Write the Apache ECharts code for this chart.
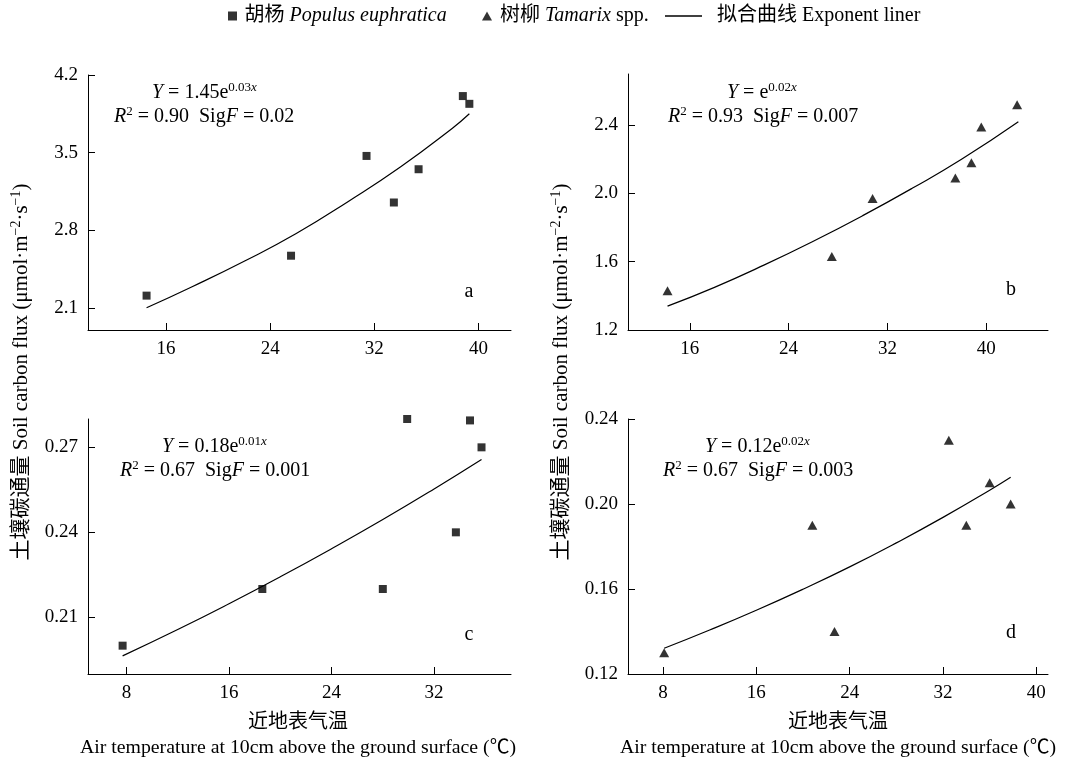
<!DOCTYPE html>
<html>
<head>
<meta charset="utf-8">
<script src="https://cdn.jsdelivr.net/npm/echarts@6/dist/echarts.min.js"></script>
<style>
  html, body { margin: 0; padding: 0; background: #fff; }
  #chart { width: 1074px; height: 762px; }
</style>
</head>
<body>
<div id="chart"></div>
<script>
const FONT = '"Liberation Serif", "Times New Roman", "Noto Sans CJK SC", serif';

// a: 胡杨 Populus euphratica (upper)
const tempA = [14.5, 25.6, 31.4, 33.5, 35.4, 38.8, 39.3];
const fluxA = [2.21, 2.57, 3.47, 3.05, 3.35, 4.01, 3.94];
const fitTempA = [14.5, 18, 22, 26, 30, 34, 38, 39.3];
const fitFluxA = [2.10, 2.29, 2.52, 2.77, 3.06, 3.37, 3.72, 3.85];

// b: 树柳 Tamarix spp. (upper)
const tempB = [14.2, 27.5, 30.8, 37.5, 38.8, 39.6, 42.5];
const fluxB = [1.43, 1.63, 1.97, 2.09, 2.18, 2.39, 2.52];
const fitTempB = [14.2, 18, 22, 26, 30, 34, 38, 42.6];
const fitFluxB = [1.34, 1.45, 1.58, 1.72, 1.87, 2.03, 2.20, 2.42];

// c: 胡杨 (lower)
const tempC = [7.7, 18.6, 28.0, 29.9, 33.7, 34.8, 35.7];
const fluxC = [0.200, 0.220, 0.220, 0.280, 0.240, 0.2795, 0.270];
const fitTempC = [7.7, 12, 16, 20, 24, 28, 32, 35.7];
const fitFluxC = [0.1964, 0.2057, 0.2148, 0.2243, 0.2342, 0.2445, 0.2553, 0.2657];

// d: 树柳 (lower)
const tempD = [8.1, 20.8, 22.7, 32.5, 34.0, 36.0, 37.8];
const fluxD = [0.130, 0.190, 0.140, 0.230, 0.190, 0.210, 0.200];
const fitTempD = [8.1, 12, 16, 20, 24, 28, 32, 36, 37.8];
const fitFluxD = [0.1321, 0.1407, 0.1500, 0.1599, 0.1704, 0.1817, 0.1937, 0.2065, 0.2126];

// tick labels
const xTicksA = [16, 24, 32, 40];
const yTicksA = [2.1, 2.8, 3.5, 4.2];
const xTicksB = [16, 24, 32, 40];
const yTicksB = [1.2, 1.6, 2.0, 2.4];
const xTicksC = [8, 16, 24, 32];
const yTicksC = [0.21, 0.24, 0.27];
const xTicksD = [8, 16, 24, 32, 40];
const yTicksD = [0.12, 0.16, 0.20, 0.24];

const zip = (xs, ys) => xs.map((x, i) => [x, ys[i]]);

const chart = echarts.init(document.getElementById('chart'));

const axisBase = (i, min, max, ticks, digits) => ({
    type: 'value',
    gridIndex: i,
    min: min,
    max: max,
    axisLine: { show: true, onZero: false, lineStyle: { color: '#000', width: 1 } },
    axisTick: { show: true, inside: true, length: 7, customValues: ticks, lineStyle: { color: '#000', width: 1 } },
    axisLabel: {
        customValues: ticks,
        color: '#000',
        fontFamily: FONT,
        fontSize: 19,
        margin: 10,
        formatter: (v) => digits == null ? String(v) : v.toFixed(digits)
    },
    splitLine: { show: false }
});

const scatter = (name, i, xs, ys, symbol, size) => ({
    name: name,
    type: 'scatter',
    xAxisIndex: i,
    yAxisIndex: i,
    symbol: symbol,
    symbolSize: size,
    clip: false,
    itemStyle: { color: '#000' },
    data: zip(xs, ys)
});

const fit = (i, xs, ys) => ({
    name: '拟合曲线',
    type: 'line',
    xAxisIndex: i,
    yAxisIndex: i,
    smooth: true,
    showSymbol: false,
    symbol: 'none',
    itemStyle: { color: '#000' },
    lineStyle: { color: '#000', width: 1.2 },
    data: zip(xs, ys)
});

const eqRich = {
    i: { fontFamily: FONT, fontSize: 20, fontStyle: 'italic', lineHeight: 24 },
    sup: { fontFamily: FONT, fontSize: 13, verticalAlign: 'top', lineHeight: 24 },
    supi: { fontFamily: FONT, fontSize: 13, fontStyle: 'italic', verticalAlign: 'top', lineHeight: 24 }
};

const eqText = (x, y, text) => ({
    type: 'text',
    x: x,
    y: y,
    style: {
        text: text,
        fill: '#000',
        fontFamily: FONT,
        fontSize: 20,
        lineHeight: 24,
        rich: eqRich,
        align: 'left',
        verticalAlign: 'middle',
        textAlign: 'left',
        textVerticalAlign: 'middle'
    }
});

const centerText = (x, y, text, size, rotation) => ({
    type: 'text',
    x: x,
    y: y,
    rotation: rotation || 0,
    style: {
        text: text,
        fill: '#000',
        fontFamily: FONT,
        fontSize: size,
        lineHeight: 24,
        rich: {
            sup: { fontFamily: FONT, fontSize: 14, verticalAlign: 'top', lineHeight: 24 }
        },
        align: 'center',
        verticalAlign: 'middle',
        textAlign: 'center',
        textVerticalAlign: 'middle'
    }
});

const yTitle = '土壤碳通量 Soil carbon flux (μmol·m{sup|−2}·s{sup|−1})';
const xTitleCn = '近地表气温';
const xTitleEn = 'Air temperature at 10cm above the ground surface (℃)';

const legendLabels = {
    '胡杨': '胡杨 {i|Populus euphratica}',
    '树柳': '树柳 {i|Tamarix} spp.',
    '拟合曲线': '拟合曲线 Exponent liner'
};

const legendItem = (left, width, name, icon, pad) => ({
    top: 6,
    left: left,
    padding: 0,
    itemWidth: width,
    itemHeight: 9,
    data: [{ name: name, icon: icon }],
    formatter: (n) => legendLabels[n],
    textStyle: {
        color: '#000',
        fontFamily: FONT,
        fontSize: 20,
        padding: [0, 0, 0, pad],
        rich: {
            i: { fontFamily: FONT, fontSize: 20, fontStyle: 'italic' }
        }
    }
});

const option = {
    backgroundColor: '#fff',
    animation: false,
    legend: [
        legendItem(228, 14, '胡杨', 'path://M0,0H10V10H0Z', 0),
        legendItem(482, 16, '树柳', 'path://M5,0L10,9H0Z', 0),
        legendItem(665, 37, '拟合曲线', 'path://M0,0H40V1.6H0Z', 10)
    ],
    grid: [
        { left: 88, top: 75, width: 423, height: 255 },
        { left: 628, top: 74, width: 420, height: 256 },
        { left: 88, top: 419, width: 423, height: 255 },
        { left: 628, top: 419, width: 420, height: 255 }
    ],
    xAxis: [
        axisBase(0, 10, 42.5, xTicksA, null),
        axisBase(1, 11, 45, xTicksB, null),
        axisBase(2, 5, 38, xTicksC, null),
        axisBase(3, 5, 41, xTicksD, null)
    ],
    yAxis: [
        axisBase(0, 1.9, 4.2, yTicksA, 1),
        axisBase(1, 1.2, 2.7, yTicksB, 1),
        axisBase(2, 0.19, 0.28, yTicksC, 2),
        axisBase(3, 0.12, 0.24, yTicksD, 2)
    ],
    series: [
        scatter('胡杨', 0, tempA, fluxA, 'rect', 8),
        fit(0, fitTempA, fitFluxA),
        scatter('树柳', 1, tempB, fluxB, 'triangle', [10, 9]),
        fit(1, fitTempB, fitFluxB),
        scatter('胡杨', 2, tempC, fluxC, 'rect', 8),
        fit(2, fitTempC, fitFluxC),
        scatter('树柳', 3, tempD, fluxD, 'triangle', [10, 9]),
        fit(3, fitTempD, fitFluxD)
    ],
    graphic: [
        eqText(152, 93, '{i|Y} = 1.45e{sup|0.03}{supi|x}'),
        eqText(114, 117, '{i|R}{sup|2} = 0.90  Sig{i|F} = 0.02'),
        eqText(727, 93, '{i|Y} = e{sup|0.02}{supi|x}'),
        eqText(668, 117, '{i|R}{sup|2} = 0.93  Sig{i|F} = 0.007'),
        eqText(162, 447, '{i|Y} = 0.18e{sup|0.01}{supi|x}'),
        eqText(120, 471, '{i|R}{sup|2} = 0.67  Sig{i|F} = 0.001'),
        eqText(705, 447, '{i|Y} = 0.12e{sup|0.02}{supi|x}'),
        eqText(663, 471, '{i|R}{sup|2} = 0.67  Sig{i|F} = 0.003'),
        centerText(469, 292, 'a', 20),
        centerText(1011, 290, 'b', 20),
        centerText(469, 635, 'c', 20),
        centerText(1011, 633, 'd', 20),
        centerText(21, 372, yTitle, 21, Math.PI / 2),
        centerText(561, 372, yTitle, 21, Math.PI / 2),
        centerText(298, 723, xTitleCn, 20),
        centerText(298, 748, xTitleEn, 19.8),
        centerText(838, 723, xTitleCn, 20),
        centerText(838, 748, xTitleEn, 19.8)
    ]
};

chart.setOption(option);
</script>
</body>
</html>
